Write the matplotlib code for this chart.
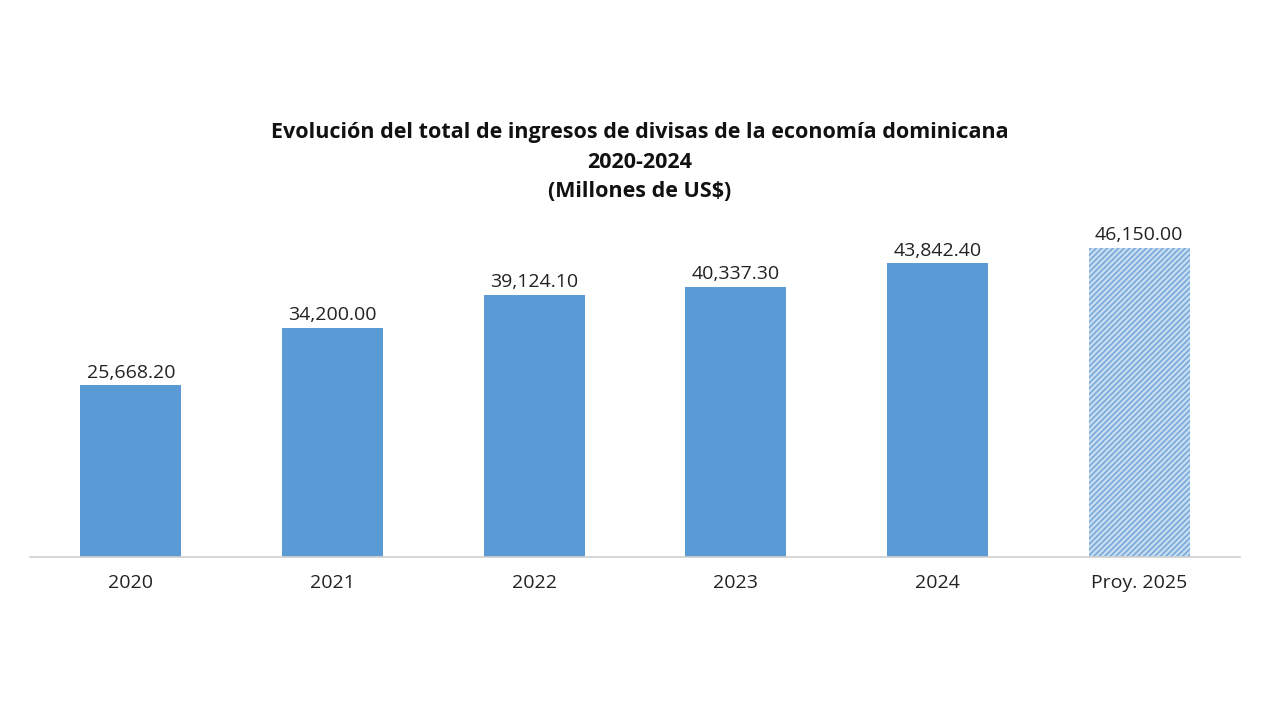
import matplotlib
matplotlib.use("Agg")
import matplotlib.pyplot as plt

categories = ["2020", "2021", "2022", "2023", "2024", "Proy. 2025"]
values = [25668.20, 34200.00, 39124.10, 40337.30, 43842.40, 46150.00]
projected = [False, False, False, False, False, True]

plt.rcParams["font.family"] = "Open Sans"
plt.rcParams["hatch.linewidth"] = 1.0
fig = plt.figure(figsize=(12.8, 7.2), dpi=100)
fig.patch.set_facecolor("white")
ax = fig.add_axes([0.0234, 0.2264, 0.9453, 0.4653])
x = list(range(len(categories)))
for i, (v, p) in enumerate(zip(values, projected)):
    if p:
        ax.bar(i, v, width=0.5, color="#c5dcf0", edgecolor="#6fa3d8", hatch="//////", linewidth=0)
    else:
        ax.bar(i, v, width=0.5, color="#5b9bd5", linewidth=0)
    ax.text(i, v + 500, f"{v:,.2f}", ha="center", va="bottom", fontsize=14, color="#222222")
ax.set_xlim(-0.5, 5.5)
ax.set_ylim(0, 50000)
ax.set_xticks(x)
ax.set_xticklabels(categories, fontsize=14, color="#222222")
ax.tick_params(axis="x", length=0, pad=12)
ax.set_yticks([])
for s in ["top", "right", "left"]:
    ax.spines[s].set_visible(False)
ax.spines["bottom"].set_color("#d0d0d0")
ax.spines["bottom"].set_linewidth(1.2)
fig.text(0.5, 0.775, "Evolución del total de ingresos de divisas de la economía dominicana\n2020-2024\n(Millones de US$)",
         ha="center", va="center", fontsize=15.5, fontweight="bold", linespacing=1.55, color="#111111")
fig.savefig("out.png", dpi=100)
